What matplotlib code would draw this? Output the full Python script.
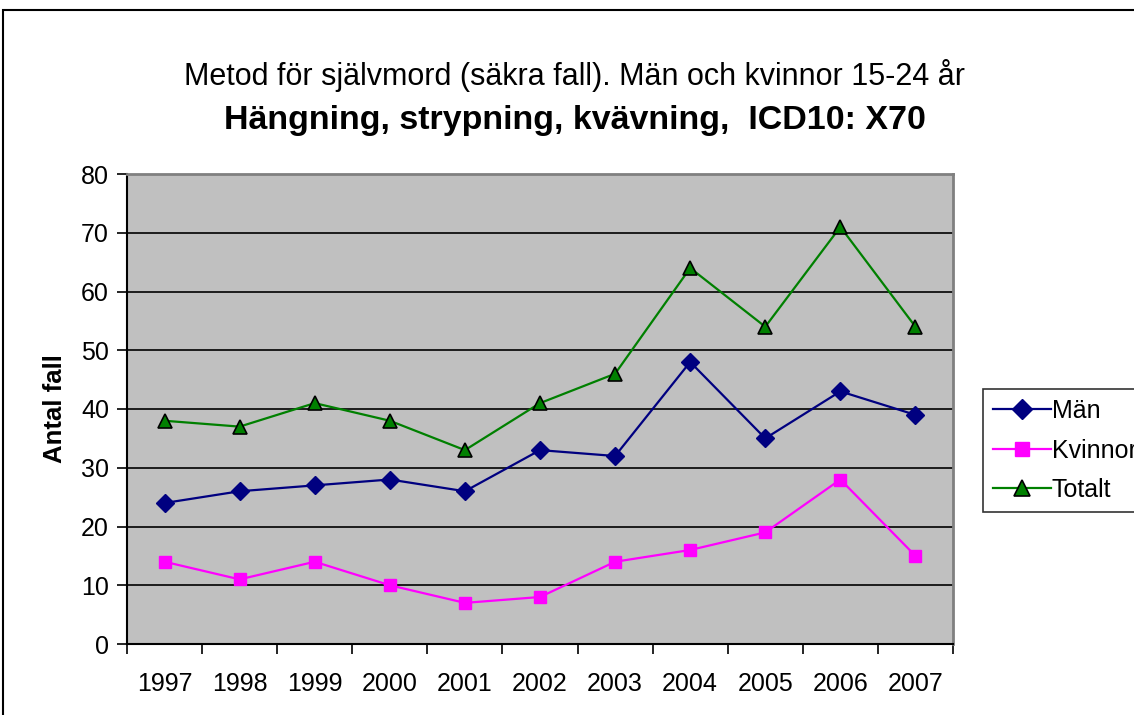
import numpy as np
import matplotlib.pyplot as plt
from matplotlib.patches import Rectangle

plt.rcParams['font.family'] = ['Liberation Sans', 'DejaVu Sans']

years = ['1997', '1998', '1999', '2000', '2001', '2002', '2003', '2004', '2005', '2006', '2007']
man = [24, 26, 27, 28, 26, 33, 32, 48, 35, 43, 39]
kvinnor = [14, 11, 14, 10, 7, 8, 14, 16, 19, 28, 15]
totalt = [38, 37, 41, 38, 33, 41, 46, 64, 54, 71, 54]

W, H = 1134, 715
fig = plt.figure(figsize=(W / 100, H / 100), dpi=100)
ax = fig.add_axes([127 / W, 1 - 644 / H, (953 - 127) / W, (644 - 174) / H])
ax.set_facecolor('#C0C0C0')

x = np.arange(len(years))
ax.plot(x, man, color='#000080', lw=1.6, marker='D', ms=9, mfc='#000080', mec='#000080', label='Män', zorder=3)
ax.plot(x, kvinnor, color='#FF00FF', lw=1.6, marker='s', ms=9, mfc='#FF00FF', mec='#FF00FF', label='Kvinnor', zorder=3)
ax.plot(x, totalt, color='#008000', lw=1.6, marker='^', ms=10.5, mfc='#008000', mec='black', mew=1.2, label='Totalt', zorder=3)

ax.set_xlim(-0.5, len(years) - 0.5)
ax.set_ylim(0, 80)
ax.set_yticks(range(0, 81, 10))
ax.yaxis.grid(True, color='black', lw=1.2)
ax.set_axisbelow(True)

ax.set_xticks(x)
ax.set_xticklabels(years, fontsize=18)
ax.set_xticks(np.arange(-0.5, len(years)), minor=True)
ax.tick_params(axis='x', which='major', length=0, pad=20)
ax.tick_params(axis='x', which='minor', length=7, width=1.2, color='black')
ax.tick_params(axis='y', labelsize=18, length=7, width=1.2, pad=6)

for s in ['top', 'right']:
    ax.spines[s].set_color('#808080')
    ax.spines[s].set_linewidth(2)
for s in ['left', 'bottom']:
    ax.spines[s].set_color('black')
    ax.spines[s].set_linewidth(1.5)

ax.set_ylabel('Antal fall', fontsize=18.5, fontweight='bold', labelpad=10)

fig.text(575 / W, 1 - 76 / H, 'Metod för självmord (säkra fall). Män och kvinnor 15-24 år',
         ha='center', va='center', fontsize=22)
fig.text(575 / W, 1 - 121 / H, 'Hängning, strypning, kvävning,  ICD10: X70',
         ha='center', va='center', fontsize=24.5, fontweight='bold')

leg = fig.legend(loc='upper left', bbox_to_anchor=(983 / W, 1 - 389 / H), fontsize=18,
                 frameon=True, fancybox=False, edgecolor='black', borderpad=0.4,
                 handlelength=2.3, handletextpad=0.05, labelspacing=0.62, borderaxespad=0,
                 markerscale=1.15)
leg.get_frame().set_linewidth(1.2)

fig.patches.append(Rectangle((3 / W, -0.1), 1.2, 1 - 10 / H + 0.1, transform=fig.transFigure,
                             fill=False, edgecolor='black', lw=1.5))

fig.savefig('out.png', dpi=100)
